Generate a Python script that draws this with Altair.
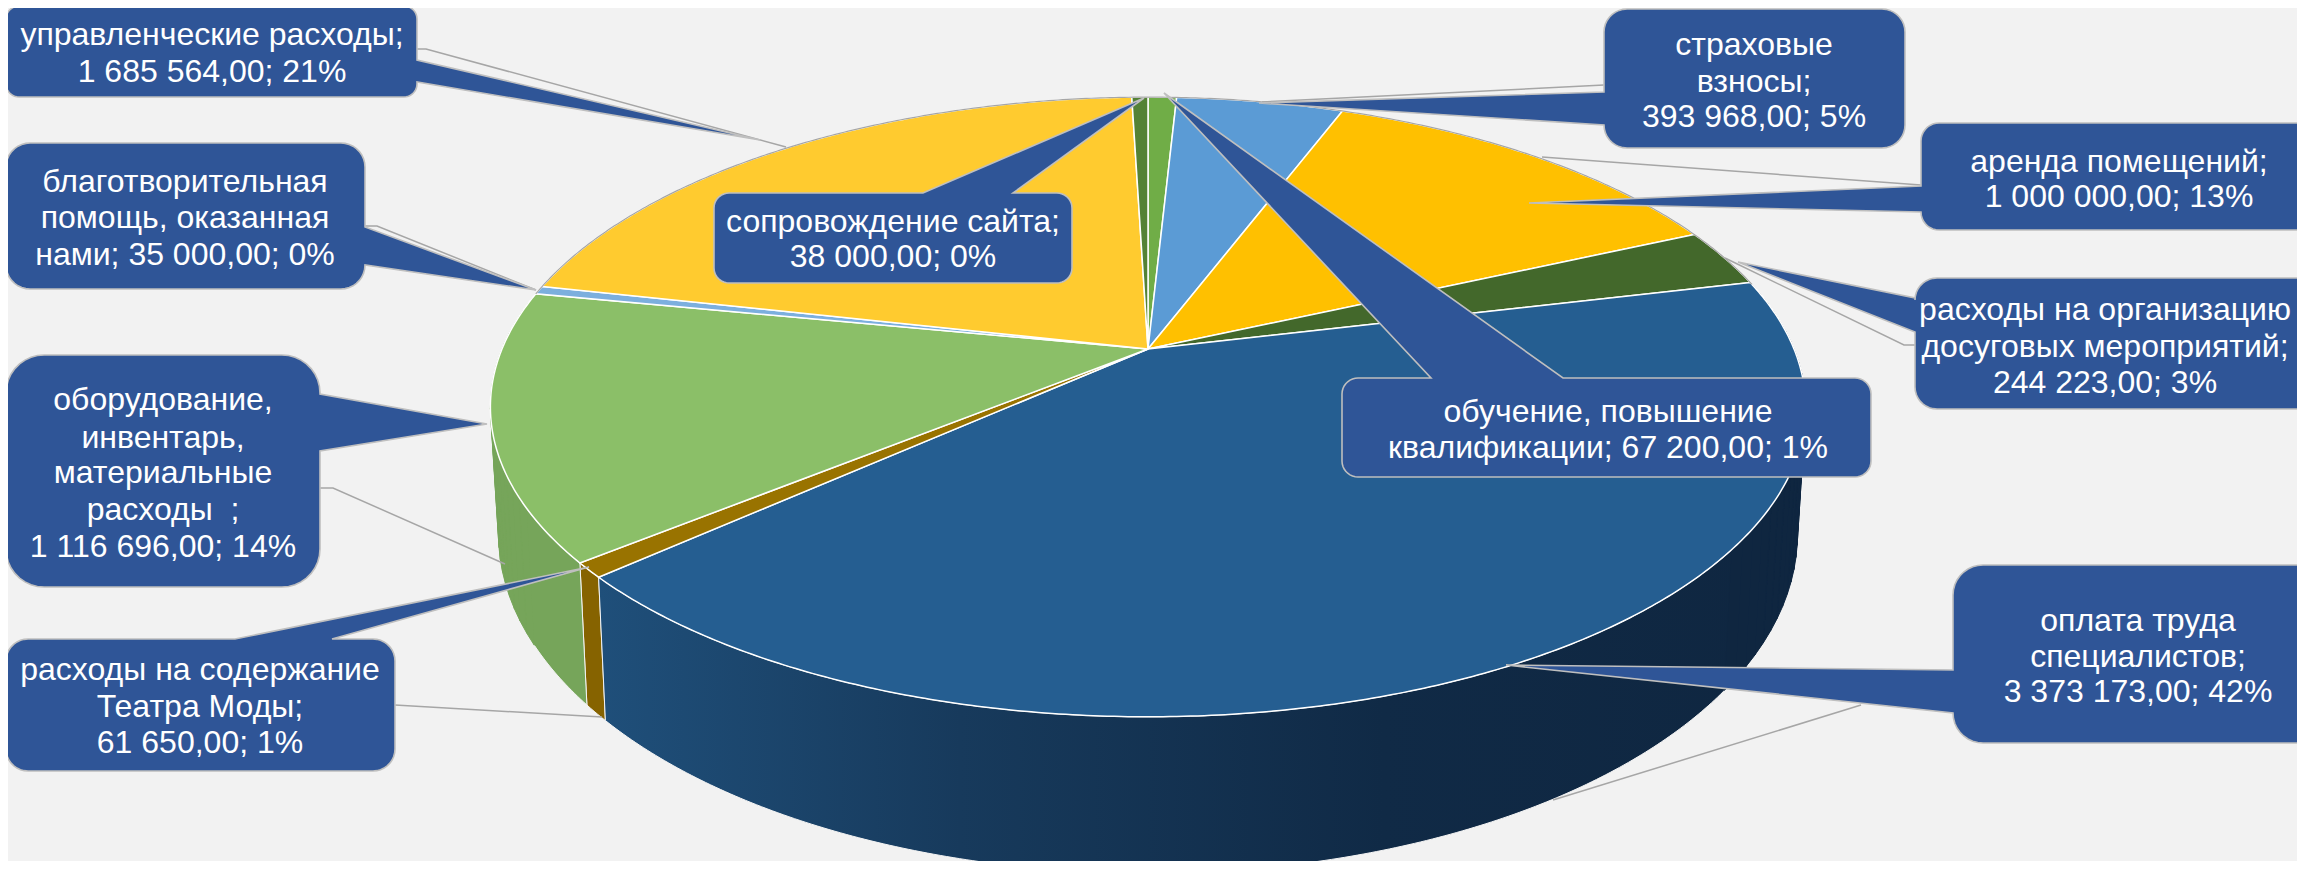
import math
import altair as alt
import pandas as pd

# ---- data, clockwise from 12 o'clock ----
categories = ["обучение, повышение квалификации", "страховые взносы", "аренда помещений",
              "расходы на организацию досуговых мероприятий", "оплата труда специалистов",
              "расходы на содержание Театра Моды", "оборудование, инвентарь, материальные расходы",
              "благотворительная помощь, оказанная нами", "управленческие расходы", "сопровождение сайта"]
values = [67200, 393968, 1000000, 244223, 3373173, 61650, 1116696, 35000, 1685564, 38000]
percents = [1, 5, 13, 3, 42, 1, 14, 0, 21, 0]
label_lines = [
    ["обучение, повышение", "квалификации; 67 200,00; 1%"],
    ["страховые", "взносы;", "393 968,00; 5%"],
    ["аренда помещений;", "1 000 000,00; 13%"],
    ["расходы на организацию", "досуговых мероприятий;", "244 223,00; 3%"],
    ["оплата труда", "специалистов;", "3 373 173,00; 42%"],
    ["расходы на содержание", "Театра Моды;", "61 650,00; 1%"],
    ["оборудование,", "инвентарь,", "материальные", "расходы\u00a0\u00a0;", "1 116 696,00; 14%"],
    ["благотворительная", "помощь, оказанная", "нами; 35 000,00; 0%"],
    ["управленческие расходы;", "1 685 564,00; 21%"],
    ["сопровождение сайта;", "38 000,00; 0%"],
]

# ---- styles ----
top_colors = ["#70ad47", "#5b9bd5", "#ffc000", "#43682b", "#255e91", "#997300", "#8bbf68", "#7cafde", "#ffcb2f", "#548235"]
wall_colors = ["#5f933c", "#4d84b5", "#d9a300", "#395825", "#1d4a74", "#866300", "#76a55a", "#6994bc", "#d9ac28", "#476f2d"]
WALL_DARK = "#0f2640"
BG = "#f2f2f2"
BOX = "#2f5597"
EDGE = "#bfbfbf"
LEADER = "#a6a6a6"
FONT = "Liberation Sans"
FONT_SIZE = 32

# ---- layout of the tilted disc, in picture pixels ----
K = 0.187
TOP_RING = (1148, 349, 646, 299)
BOTTOM_RING = (1148, 471, 638, 327)


def ring(theta_deg, r):
    t = math.radians(theta_deg)
    u, v = math.sin(t), -math.cos(t)
    w = 1 - K * v
    return [r[0] + r[2] * u / w, r[1] + r[3] * v / w]


def arc(a, b, r):
    n = max(2, int(abs(b - a) * 2) + 1)
    return [ring(a + (b - a) * i / (n - 1), r) for i in range(n)]


def poly(points, **props):
    return {"type": "Feature", "properties": props,
            "geometry": {"type": "Polygon", "coordinates": [points + [points[0]]]}}


def path(points, **props):
    return {"type": "Feature", "properties": props,
            "geometry": {"type": "LineString", "coordinates": points}}


total = sum(values)
edges = [0]
for val in values:
    edges.append(edges[-1] + val / total * 360)

faces, walls, pay_wall, silhouette = [], [], [], []
for i, cat in enumerate(categories):
    a, b = edges[i], edges[i + 1]
    faces.append(poly([[TOP_RING[0], TOP_RING[1]]] + arc(a, b, TOP_RING), name=cat, fill=top_colors[i]))
    lo, hi = max(a, 70), min(b, 290)
    if hi > lo:
        is_pay = values[i] == max(values)
        f = poly(arc(lo, hi, TOP_RING) + arc(hi, lo, BOTTOM_RING), name=cat, fill=wall_colors[i])
        (pay_wall if is_pay else walls).append(f)
        # small quads that fill the straight side of the cylinder between the two rings
        if hi - lo > 20:
            s0, s1 = (lo, lo + 50) if is_pay else (hi - 40, hi)
            colour = WALL_DARK if is_pay else wall_colors[i]
            t = s0
            while t < s1:
                u = min(t + 2, s1)
                silhouette.append(poly([ring(t, TOP_RING), ring(u, TOP_RING), ring(u, BOTTOM_RING), ring(t, BOTTOM_RING)],
                                       name=cat, fill=colour))
                t = u

back_rim = [path(arc(281, 360, TOP_RING) + arc(0, 77, TOP_RING), name="rim")]

# ---- callouts: box (x0,y0,x1,y1), corner radius, side, tail base a, base b, tip, leader ----
callouts = [
    dict(i=8, box=(6, 6, 417, 97), r=13, side="right", base=(60, 82), tip=(760, 140),
         leader=[[417, 49], [426, 49], [786, 147]], tx=212, ty=[35, 72]),
    dict(i=7, box=(6, 143, 365, 289), r=24, side="right", base=(227, 265), tip=(536, 290),
         leader=[[365, 226], [377, 226], [536, 290]], tx=185, ty=[182, 218, 255]),
    dict(i=6, box=(6, 355, 320, 587), r=38, side="right", base=(394, 451), tip=(487, 424),
         leader=[[320, 488], [333, 488], [505, 564]], tx=163, ty=[400, 438, 473, 510, 547]),
    dict(i=5, box=(6, 639, 395, 771), r=22, side="top", base=(235, 332), tip=(589, 567),
         leader=[[395, 705], [602, 717]], tx=200, ty=[670, 707, 743]),
    dict(i=1, box=(1604, 9, 1905, 148), r=23, side="left", base=(125, 92), tip=(1259, 103),
         leader=[[1604, 85], [1262, 102]], tx=1754, ty=[45, 82, 117]),
    dict(i=2, box=(1921, 123, 2330, 230), r=18, side="left", base=(212, 186), tip=(1529, 203),
         leader=[[1921, 185], [1542, 157]], tx=2119, ty=[162, 197]),
    dict(i=3, box=(1915, 278, 2330, 409), r=22, side="left", base=(332, 298), tip=(1738, 262),
         leader=[[1915, 345], [1904, 345], [1725, 258]], tx=2105, ty=[310, 347, 383]),
    dict(i=4, box=(1953, 565, 2330, 743), r=30, side="left", base=(713, 670), tip=(1506, 665),
         leader=[[1861, 705], [1553, 800]], tx=2138, ty=[621, 657, 692]),
    dict(i=9, box=(714, 193, 1072, 283), r=15, side="top", base=(923, 1013), tip=(1144, 98),
         leader=None, tx=893, ty=[222, 257]),
    dict(i=0, box=(1342, 378, 1871, 477), r=16, side="top", base=(1431, 1563), tip=(1164, 93),
         leader=None, tx=1608, ty=[412, 448]),
]


def corner(cx, cy, r, start):
    return [[cx + r * math.cos(math.radians(start + d)), cy + r * math.sin(math.radians(start + d))]
            for d in range(0, 91, 10)]


def callout_polygon(c):
    x0, y0, x1, y1 = c["box"]
    r = c["r"]
    b0, b1 = c["base"]
    tip = list(c["tip"])
    pts = corner(x0 + r, y0 + r, r, 180)
    if c["side"] == "top":
        pts += [[b0, y0], tip, [b1, y0]]
    pts += corner(x1 - r, y0 + r, r, 270)
    if c["side"] == "right":
        pts += [[x1, b0], tip, [x1, b1]]
    pts += corner(x1 - r, y1 - r, r, 0)
    pts += corner(x0 + r, y1 - r, r, 90)
    if c["side"] == "left":
        pts += [[x0, b0], tip, [x0, b1]]
    return poly(pts, name=categories[c["i"]])


boxes = [callout_polygon(c) for c in callouts]
leaders = [path(c["leader"], name=categories[c["i"]]) for c in callouts if c["leader"]]

rows = []
for c in callouts:
    for line, y in zip(label_lines[c["i"]], c["ty"]):
        rows.append({"line": line, "px": c["tx"], "py": y})
text_df = pd.DataFrame(rows)

# page margin is 8 px: picture pixels -> plot pixels
W, H = 2289, 853


def geo(features):
    return alt.Chart(alt.Data(values=features)).project(type="identity", scale=1, translate=[-8, -8])


silhouette_layer = geo(silhouette).mark_geoshape(strokeWidth=1).encode(
    fill=alt.Fill("properties.fill:N", scale=None),
    stroke=alt.Stroke("properties.fill:N", scale=None))
wall_layer = geo(walls).mark_geoshape(stroke="#f4f4f4", strokeWidth=1).encode(
    fill=alt.Fill("properties.fill:N", scale=None))
pay_layer = geo(pay_wall).mark_geoshape(
    stroke="#f4f4f4", strokeWidth=1,
    fill={"gradient": "linear", "x1": 0, "x2": 1, "y1": 0, "y2": 0,
          "stops": [{"offset": 0, "color": "#1f4f7a"}, {"offset": 0.3, "color": "#173a5c"},
                    {"offset": 0.65, "color": "#102a46"}, {"offset": 1, "color": WALL_DARK}]})
face_layer = geo(faces).mark_geoshape(stroke="#ffffff", strokeWidth=1.5).encode(
    fill=alt.Fill("properties.fill:N", scale=None))
rim_layer = geo(back_rim).mark_geoshape(filled=False, stroke=LEADER, strokeWidth=1.2)
leader_layer = geo(leaders).mark_geoshape(filled=False, stroke=LEADER, strokeWidth=1.5)
box_layer = geo(boxes).mark_geoshape(fill=BOX, stroke=EDGE, strokeWidth=1.6)
text_layer = alt.Chart(text_df).mark_text(
    font=FONT, fontSize=FONT_SIZE, color="#ffffff", align="center", baseline="middle"
).encode(
    x=alt.X("px:Q", axis=None, scale=alt.Scale(domain=[8, 8 + W], range=[0, W])),
    y=alt.Y("py:Q", axis=None, scale=alt.Scale(domain=[8, 8 + H], range=[0, H])),
    text="line:N",
)

chart = alt.layer(wall_layer, pay_layer, silhouette_layer, face_layer, rim_layer, leader_layer,
                  box_layer, text_layer).properties(
    width=W, height=H, background=BG, padding=0,
    autosize=alt.AutoSizeParams(type="none"),
).configure_view(stroke=None)

chart.save("out.html", embed_options={"renderer": "svg", "actions": False})
